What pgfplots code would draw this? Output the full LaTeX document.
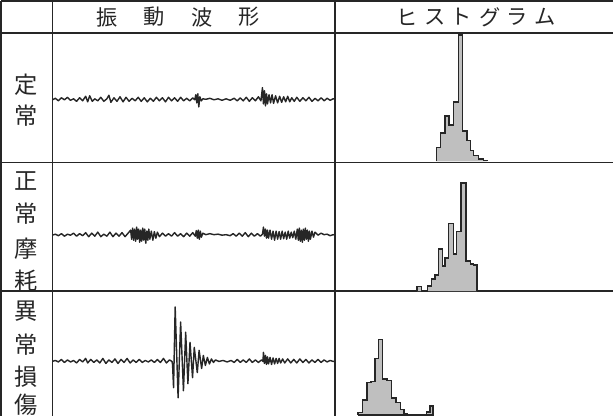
\documentclass[border=0pt]{standalone}
\usepackage{pgfplots}
\pgfplotsset{compat=1.18}
\usepackage{pgfplotstable}
\usepackage{fontspec}
\newfontfamily\jp{Noto Sans CJK JP}

% waveform 1 (offset upward in px)
\pgfplotstableread{
x v
58 0
61 1.5
64 -1
67 2
70 0
73 2.5
76 -0.5
79 1
82 -1.5
85 2
88 -1
91 3.5
93 -2
95 4
97.5 -1.5
100 1
103 -1
106 2.5
109 -1.5
112 1
114 4.5
116 -2.5
119 2
122 -1.5
125 3
128 -2
131 2.5
134 -1.5
137 1.5
140 -1
143 2.5
146 -1.5
149 2
152 -2
155 1.5
158 -1.5
161 2.5
164 -1
167 2
170 -2
173 2.5
176 -1
179 2
182 -1.5
185 2.5
188 -1
191 1.5
194 -1
197 2
199 0
200 5
201 -3
202 6
203 -7
204 3
205.5 -1
207 1
210 0.5
214 1.5
218 0
222 1
226 -0.5
230 1
234 -0.5
238 1.5
241 -1
244 2
247 -1
250 2.5
253 -1.5
256 2
259 -1
262 3
264.5 -1
266 12
267 -4
268 9
269 -6
270 6
271 -4
272.5 5
274 -3
275.5 5
277 -3.5
279 4
281 -3
283 3.5
285 -2.5
287 3
289 -2
291 3.5
293 -2
295 2
297.5 -1.5
300 2.5
303 -1.5
306 2
309 -1
312 2.5
315 -1.5
318 1.5
321 -1
324 2
327 -1
330 1.5
333 -0.5
336 1
338 1
}\waveone

\pgfplotstableread{
x v
58 0
61 1
64 -0.5
67 1.5
70 -1
73 1
76 0
79 2
82 -1
85 1.5
88 -0.5
91 2.5
94 -1.5
97 2
100 -1
103 3
106 -1.5
109 1
112 -1
115 3
118 -1.5
121 2
124 -1
127 2.5
130 -1.5
133 2
135.5 5
136.5 -4
137.5 7
138.5 -5
139.5 6
140.5 -6
141.5 8
142.5 -4
143.5 6
144.5 -7
145.5 5
146.5 -6
147.5 7
148.5 -5
149.5 6
150.5 -8
151.5 4
152.5 -5
153.5 6
154.5 -4
156 4
157.5 -5
159 3.5
160.5 -3
162 3
164 -1.5
167 2
170 -1
173 1.5
176 -1
179 2.5
182 -1
185 1.5
188 -1.5
191 2
194 -1
197 2.5
199.5 -1
200.5 4.5
201.5 -3
202.5 5
203.5 -4
204.5 4
205.5 -2
207 2
210 0.5
214 1.5
218 0.5
222 1
226 0
230 0.5
234 -0.5
237 1.5
240 -1
243 2
246 -1
249 2.5
252 -1.5
255 2
258 -1
261 1.5
264 -1
266 1
267 8
268 -1
269 6
270 -3
271 5
272 -3
273.5 5
275 -4
276.5 4
278 -5
279.5 4
281 -4
282.5 3.5
284 -4
285.5 4
287 -3.5
288.5 3
290 -4
291.5 4
293 -3
294.5 3
296 -2.5
297.5 4
299 -4
300.5 6
301.5 -5
302.5 7
303.5 -6
304.5 5
305.5 -7
306.5 6
307.5 -5
308.5 7
309.5 -4
310.5 5
311.5 -6
312.5 4
313.5 -4
315 4
316.5 -2
318 3
321 0
324 2
327 0.5
330 1
333 -0.5
336 0.5
338 0
}\wavetwo

\pgfplotstableread{
x v
58 0
61 1
64 -0.5
67 2
70 -1
73 1.5
76 -0.5
79 1
82 -1.5
85 2
88 -0.5
91 3
93 -1.5
96 2
99 -1
102 1.5
105 -1.5
108 3
111 -2
114 1.5
117 -1
120 2.5
123 -2
126 2
129 -1
132 3
135 -1.5
138 1.5
141 -1
144 2
147 -1
150 1
153 -0.5
156 1.5
159 -1
162 2
165 -1
168 3
171 -1.5
174 1.5
176.5 0
177 -3
178 -26
179.6 54
182.5 -36
185 39
187.8 -29
190 29
192.2 -22
194.3 19
196.8 -16
198.5 14
201.5 -11
203.3 11
205.8 -7
207.5 6
209.5 -4
211.5 4
213.5 -2.5
215.5 2.5
217.5 -1
219.5 1.5
223 0
227 1
231 -0.5
235 1
238 -1
241 2
244 -1
247 1.5
250 -1
253 2.5
256 -1
259 1.5
262 -1
265 1.5
266.5 0
267 9
268 -2
269 6
270 -3
271 4.5
272 -2.5
273.5 4
275 -3
276.5 3.5
278 -2.5
279.5 3
281 -2
282.5 3
284 -1.5
286 2.5
288 -1.5
291 2.5
294 -1.5
297 2
300 -1.5
303 2.5
306 -1
309 2
312 -1.5
315 1.5
318 -1
321 2
324 -1
327 1.5
330 -0.5
333 1
336 0
338 0.5
}\wavethree

% histograms (left edge, height in px)
\pgfplotstableread{
x h
438.3 0
438.3 14
442.3 28
446.7 45
450.7 36
455 59
460 125
464 30
468.3 21
471.7 11
475 6
480 2.5
485 1.2
488.3 0
}\histone

\pgfplotstableread{
x h
419 0
419 4.7
423.3 0
429.3 5
433.3 12
436.7 16
440 42
444 25
446.7 33
450 67
455 37
458.3 59
462.7 107
467.3 30
471.7 27
475 26
478.3 0
}\histtwo

\pgfplotstableread{
x h
360.7 0
360.7 2.3
365 14.7
369.3 32
373.3 33
377.3 55.7
380.7 74.7
385 35.7
389.3 34
394 16.7
398.3 12.3
402.7 5.7
406 1.3
409.3 0
428.3 3
431.7 9
435 0
360.7 0
}\histthree

\begin{document}
\begin{tikzpicture}
\begin{axis}[width=306.5pt,height=210pt,scale only axis,
  xmin=0,xmax=613,ymin=0,ymax=420,y dir=reverse,hide axis,clip=true]
% table grid
\draw[line width=0.8pt,black!85] (axis cs:7,9) -- (axis cs:613,9);
\draw[line width=0.8pt,black!85] (axis cs:7,41) -- (axis cs:613,41);
\draw[line width=0.8pt,black!85] (axis cs:7,169) -- (axis cs:613,169);
\draw[line width=0.8pt,black!85] (axis cs:7,296) -- (axis cs:613,296);
\draw[line width=0.8pt,black!85] (axis cs:7,9) -- (axis cs:7,420);
\draw[line width=0.8pt,black!85] (axis cs:58,9) -- (axis cs:58,420);
\draw[line width=0.8pt,black!85] (axis cs:338,9) -- (axis cs:338,420);
% waveforms
\addplot[black!85,line width=0.7pt,line join=round] table[x=x,y expr=107-\thisrow{v}] {\waveone};
\addplot[black!85,line width=0.7pt,line join=round] table[x=x,y expr=241-\thisrow{v}] {\wavetwo};
\addplot[black!85,line width=0.7pt,line join=round] table[x=x,y expr=366-\thisrow{v}] {\wavethree};
% histograms
\addplot[const plot,draw=black!85,line width=0.7pt,fill=black!25] table[x=x,y expr=168-\thisrow{h}] {\histone};
\addplot[const plot,draw=black!85,line width=0.7pt,fill=black!25] table[x=x,y expr=296.5-\thisrow{h}] {\histtwo};
\addplot[const plot,draw=black!85,line width=0.7pt,fill=black!25] table[x=x,y expr=419-\thisrow{h}] {\histthree};
% header
\begin{scope}[every node/.style={font=\jp\fontsize{10.5}{12}\selectfont,text=black!85,inner sep=0pt}]
\node at (axis cs:112,25) {振};
\node at (axis cs:159,25) {動};
\node at (axis cs:206,25) {波};
\node at (axis cs:253,25) {形};
\node at (axis cs:409,25) {ヒ};
\node at (axis cs:437,25) {ス};
\node at (axis cs:463,25) {ト};
\node at (axis cs:491,25) {グ};
\node at (axis cs:518,25) {ラ};
\node at (axis cs:546,25) {ム};
\end{scope}
\begin{scope}[every node/.style={font=\jp\fontsize{11.5}{12}\selectfont,text=black!85,inner sep=0pt}]
\node at (axis cs:32,92) {定};
\node at (axis cs:32,123) {常};
\node at (axis cs:32,187) {正};
\node at (axis cs:32,220) {常};
\node at (axis cs:32,254) {摩};
\node at (axis cs:32,286) {耗};
\node at (axis cs:32,316) {異};
\node at (axis cs:32,349) {常};
\node at (axis cs:32,381) {損};
\node at (axis cs:32,409) {傷};
\end{scope}
\end{axis}
\end{tikzpicture}
\end{document}
